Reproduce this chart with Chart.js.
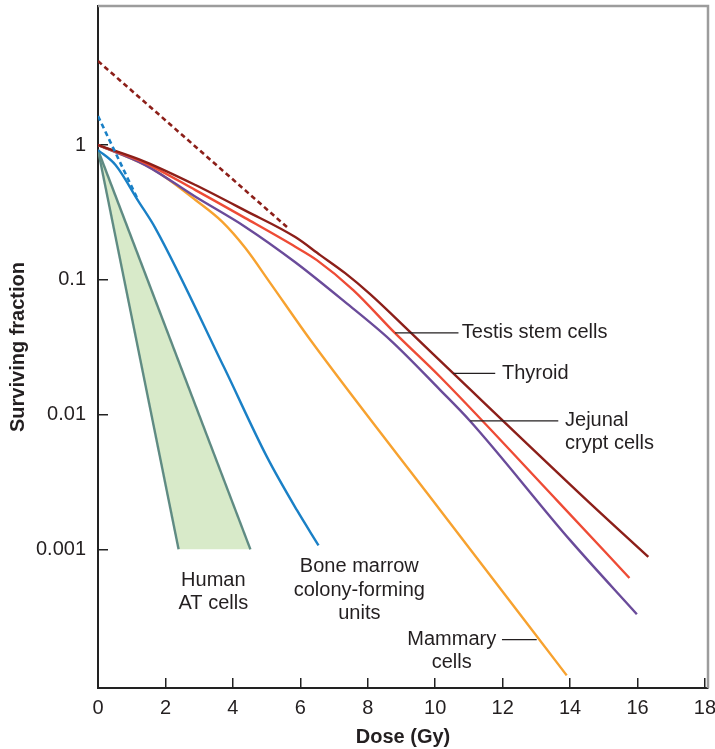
<!DOCTYPE html>
<html>
<head>
<meta charset="utf-8">
<script src="https://cdn.jsdelivr.net/npm/chart.js@4.4.1/dist/chart.umd.min.js"></script>
<style>
  html, body { margin: 0; padding: 0; background: #fff; }
  canvas { display: block; }
</style>
</head>
<body>
<canvas id="chartSurvival" width="715" height="749"></canvas>
<script>

// axis ticks
const doseTicks = [0, 2, 4, 6, 8, 10, 12, 14, 16, 18];
const survivalTicks = [1, 0.1, 0.01, 0.001];
const survivalTickLabels = ['1', '0.1', '0.01', '0.001'];

// curves (dose in Gy, surviving fraction)
const testisDose = [0, 1.40, 2.89, 4.37, 5.85, 6.59, 7.33, 8.07, 9.26, 10.53, 14.50, 16.32];
const testisSurvival = [1, 0.751, 0.505, 0.326, 0.2075, 0.1525, 0.112, 0.0783, 0.0409, 0.0203, 0.00231, 0.000879];

const thyroidDose = [0, 1.40, 2.89, 4.37, 5.85, 6.49, 7.57, 8.81, 10.15, 13.61, 15.76];
const thyroidSurvival = [1, 0.735, 0.463, 0.287, 0.176, 0.140, 0.0839, 0.0402, 0.0190, 0.00231, 0.000613];

const jejunalDose = [0, 1.40, 2.89, 4.37, 5.85, 7.33, 8.67, 10.15, 11.04, 14.00, 15.98];
const jejunalSurvival = [1, 0.710, 0.413, 0.247, 0.135, 0.0683, 0.0357, 0.0152, 0.00893, 0.00117, 0.00033];

const mammaryDose = [0, 1.40, 1.90, 2.89, 3.68, 4.37, 5.11, 6.30, 10.15, 13.90];
const mammarySurvival = [1, 0.711, 0.599, 0.391, 0.270, 0.172, 0.0945, 0.0357, 0.00195, 0.000116];

const marrowDose = [0, 0.52, 1.21, 1.70, 3.73, 5.01, 5.90, 6.54];
const marrowSurvival = [0.918, 0.711, 0.379, 0.242, 0.0226, 0.00485, 0.00195, 0.00107];

// extrapolated terminal slopes (dashed)
const marrowExtrapDose = [0, 1.16];
const marrowExtrapSurvival = [1.64, 0.404];
const testisExtrapDose = [0, 5.64];
const testisExtrapSurvival = [4.2, 0.242];

// Human AT cells band: shallow edge, steep edge, and the band floor
const atShallowDose = [0, 4.52];
const atShallowSurvival = [0.918, 0.001];
const atSteepDose = [0, 2.39];
const atSteepSurvival = [0.918, 0.001];
const atFloorDose = [0, 2.39, 4.52];
const atFloorSurvival = [0.918, 0.001, 0.001];

const toPoints = (xs, ys) => xs.map((x, i) => ({ x: x, y: ys[i] }));

const colors = {
  testis: '#8c1f19',
  thyroid: '#ee4b35',
  jejunal: '#6a4b9a',
  mammary: '#f7a22f',
  marrow: '#1a80c6',
  atEdge: '#5f8b83',
  atFill: '#d8eac9',
  frame: '#9c9c9c',
  text: '#231f20'
};

// curve notes, placed in data units
const notes = [
  { lines: ['Testis stem cells'], x: 10.79, y: [0.0404], align: 'left', leader: [8.81, 10.69, 0.0404] },
  { lines: ['Thyroid'], x: 11.98, y: [0.0202], align: 'left', leader: [10.54, 11.78, 0.0202] },
  { lines: ['Jejunal', 'crypt cells'], x: 13.85, y: [0.00908, 0.00613], align: 'left', leader: [11.04, 13.65, 0.00898] },
  { lines: ['Mammary', 'cells'], x: 10.49, y: [0.000214, 0.000145], align: 'center', leader: [11.98, 13.01, 0.000214] },
  { lines: ['Human', 'AT cells'], x: 3.42, y: [0.00059, 0.000398], align: 'center' },
  { lines: ['Bone marrow', 'colony-forming', 'units'], x: 7.75, y: [0.00075, 0.000497, 0.000336], align: 'center' }
];

const notesPlugin = {
  id: 'curveNotes',
  afterDatasetsDraw(chart) {
    const { ctx, chartArea, scales } = chart;
    const xs = scales.x, ys = scales.y;
    ctx.save();

    // grey frame on top and right
    ctx.strokeStyle = colors.frame;
    ctx.lineWidth = 2.5;
    ctx.beginPath();
    ctx.moveTo(chartArea.left, chartArea.top);
    ctx.lineTo(chartArea.right, chartArea.top);
    ctx.lineTo(chartArea.right, chartArea.bottom);
    ctx.stroke();

    ctx.font = '20px "Liberation Sans", Arial, sans-serif';
    ctx.fillStyle = colors.text;
    ctx.strokeStyle = colors.text;
    ctx.lineWidth = 1.3;
    ctx.textBaseline = 'middle';

    notes.forEach(note => {
      if (note.leader) {
        let ly = ys.getPixelForValue(note.leader[2]);
        ctx.beginPath();
        ctx.moveTo(xs.getPixelForValue(note.leader[0]), ly);
        ctx.lineTo(xs.getPixelForValue(note.leader[1]), ly);
        ctx.stroke();
      }
      ctx.textAlign = note.align;
      note.lines.forEach((line, i) => {
        ctx.fillText(line, xs.getPixelForValue(note.x), ys.getPixelForValue(note.y[i]));
      });
    });
    ctx.restore();
  }
};

const solidLine = (label, xs, ys, color) => ({
  label: label,
  data: toPoints(xs, ys),
  borderColor: color,
  borderWidth: 2.4,
  pointRadius: 0,
  cubicInterpolationMode: 'monotone',
  fill: false
});

const dashedLine = (label, xs, ys, color) => ({
  label: label,
  data: toPoints(xs, ys),
  borderColor: color,
  borderWidth: 2.6,
  borderDash: [5, 3.5],
  pointRadius: 0,
  tension: 0,
  fill: false
});

const edgeLine = (label, xs, ys) => ({
  label: label,
  data: toPoints(xs, ys),
  borderColor: colors.atEdge,
  borderWidth: 2.4,
  pointRadius: 0,
  tension: 0,
  fill: false
});

const axisFont = { family: '"Liberation Sans", Arial, sans-serif', size: 20 };

new Chart(document.getElementById('chartSurvival').getContext('2d'), {
  type: 'line',
  data: {
    datasets: [
      dashedLine('Marrow extrapolation', marrowExtrapDose, marrowExtrapSurvival, colors.marrow),
      dashedLine('Testis extrapolation', testisExtrapDose, testisExtrapSurvival, colors.testis),
      solidLine('Testis stem cells', testisDose, testisSurvival, colors.testis),
      solidLine('Thyroid', thyroidDose, thyroidSurvival, colors.thyroid),
      solidLine('Jejunal crypt cells', jejunalDose, jejunalSurvival, colors.jejunal),
      solidLine('Mammary cells', mammaryDose, mammarySurvival, colors.mammary),
      solidLine('Bone marrow colony-forming units', marrowDose, marrowSurvival, colors.marrow),
      edgeLine('Human AT cells (steep edge)', atSteepDose, atSteepSurvival),
      Object.assign(edgeLine('Human AT cells (shallow edge)', atShallowDose, atShallowSurvival), {
        backgroundColor: colors.atFill,
        fill: '+1'
      }),
      {
        label: 'Human AT cells (floor)',
        data: toPoints(atFloorDose, atFloorSurvival),
        borderWidth: 0,
        borderColor: 'rgba(0,0,0,0)',
        pointRadius: 0,
        tension: 0,
        fill: false
      }
    ]
  },
  options: {
    responsive: false,
    animation: false,
    layout: { padding: { left: 0, top: 6, right: 7, bottom: 0 } },
    plugins: {
      legend: { display: false },
      tooltip: { enabled: false },
      filler: { drawTime: 'beforeDatasetsDraw' }
    },
    scales: {
      x: {
        type: 'linear',
        min: 0,
        max: 18.09,
        afterBuildTicks: scale => { scale.ticks = doseTicks.map(v => ({ value: v })); },
        afterFit: scale => {
          scale.height = 61;
          scale.paddingLeft = 0;
          scale.paddingRight = 0;
        },
        ticks: {
          autoSkip: false,
          maxRotation: 0,
          padding: 18,
          color: colors.text,
          font: axisFont,
          callback: v => String(v)
        },
        grid: { drawOnChartArea: false, drawTicks: true, tickLength: -10, color: '#222', lineWidth: 1.5 },
        border: { color: '#222', width: 2 },
        title: {
          display: true,
          text: 'Dose (Gy)',
          color: colors.text,
          font: { family: '"Liberation Sans", Arial, sans-serif', size: 20, weight: 'bold' },
          padding: { top: 0, bottom: 0 }
        }
      },
      y: {
        type: 'logarithmic',
        min: 9.35e-5,
        max: 10.76,
        afterBuildTicks: scale => { scale.ticks = survivalTicks.map(v => ({ value: v })); },
        afterFit: scale => {
          scale.width = 98;
          scale.paddingTop = 0;
          scale.paddingBottom = 0;
        },
        ticks: {
          autoSkip: false,
          padding: 22,
          color: colors.text,
          font: axisFont,
          callback: (v, i) => survivalTickLabels[i]
        },
        grid: { drawOnChartArea: false, drawTicks: true, tickLength: -10, color: '#222', lineWidth: 1.5 },
        border: { color: '#222', width: 2 },
        title: {
          display: true,
          text: 'Surviving fraction',
          color: colors.text,
          font: { family: '"Liberation Sans", Arial, sans-serif', size: 20, weight: 'bold' },
          padding: { top: 6, bottom: 0 }
        }
      }
    }
  },
  plugins: [notesPlugin]
});
</script>
</body>
</html>
